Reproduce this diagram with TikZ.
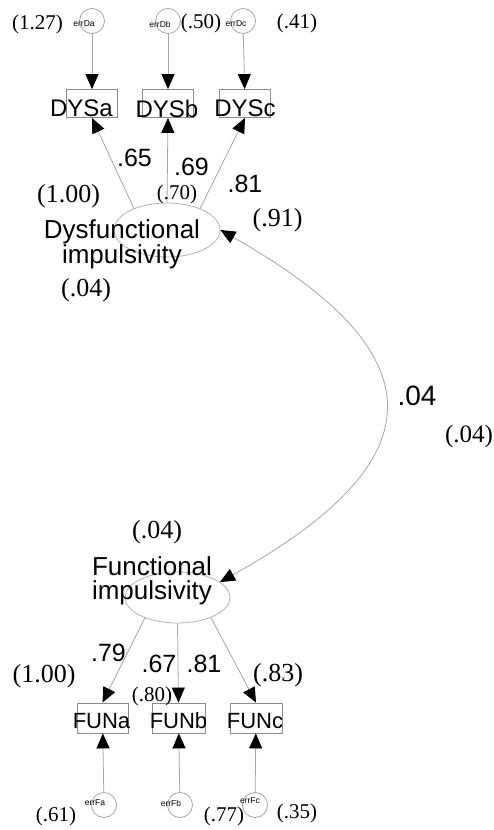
\documentclass[tikz,border=0pt]{standalone}
\usepackage{fontspec}
\setmainfont{Liberation Serif}
\setsansfont{Liberation Sans}
\usetikzlibrary{arrows.meta,shapes.geometric}
\begin{document}
\begin{tikzpicture}[x=1pt,y=-1pt,
  ln/.style={draw=black!35, line width=0.8pt},
  tipend/.style={-{Triangle[length=15pt,width=13pt,color=black]}},
  bothend/.style={{Triangle[length=15pt,width=13pt,color=black]}-{Triangle[length=15pt,width=13pt,color=black]}},
  obsbox/.style={draw=black!45, line width=0.8pt, minimum width=51pt, minimum height=28pt, inner sep=0pt},
  latent/.style={ellipse, draw=black!30, line width=0.8pt, inner sep=0pt},
  errc/.style={circle, draw=black!35, line width=0.8pt, minimum size=25pt, inner sep=0pt},
  tinytxt/.style={font=\sffamily\fontsize{8.5}{9}\selectfont, inner sep=0pt},
  boxtxt/.style={font=\sffamily\fontsize{24}{24}\selectfont, inner sep=0pt},
  funtxt/.style={font=\sffamily\fontsize{22}{22}\selectfont, inner sep=0pt},
  lattxt/.style={font=\sffamily\fontsize{26}{22}\selectfont, align=center, inner sep=0pt},
  coef/.style={font=\sffamily\fontsize{25}{25}\selectfont, inner sep=0pt},
  est/.style={font=\rmfamily\fontsize{21}{21}\selectfont, inner sep=0pt},
  estb/.style={font=\rmfamily\fontsize{26}{26}\selectfont, inner sep=0pt}
]
\useasboundingbox (0,0) rectangle (494,830);

% ---------- top error terms ----------
\node[errc] (eDa) at (92,21) {};
\node[errc] (eDb) at (168,21) {};
\node[errc] (eDc) at (243,21) {};
\node[tinytxt] (teDa) at (84,24) {errDa};
\node[tinytxt] (teDb) at (160,24) {errDb};
\node[tinytxt] (teDc) at (236,24) {errDc};
\node[est] (v127) at (37.5,24) {(1.27)};
\node[est] (v50) at (201,23) {(.50)};
\node[est] (v41) at (297,23) {(.41)};

% ---------- DYS boxes ----------
\node[obsbox] (DYSa) at (92,103.5) {};
\node[obsbox] (DYSb) at (168,103.5) {};
\node[obsbox] (DYSc) at (245,103.5) {};
\node[boxtxt] (tDYSa) at (81.5,108.5) {DYSa};
\node[boxtxt] (tDYSb) at (167,108.5) {DYSb};
\node[boxtxt] (tDYSc) at (245,108.5) {DYSc};

\draw[ln,tipend] (eDa) -- (DYSa);
\draw[ln,tipend] (eDb) -- (DYSb);
\draw[ln,tipend] (eDc) -- (DYSc);

% ---------- Dysfunctional latent ----------
\node[latent, minimum width=106pt, minimum height=54pt] (dys) at (167,230) {};
\node[lattxt] (tdys) at (122,244) {Dysfunctional\\impulsivity};

\draw[ln,tipend] (dys.147) -- (DYSa.south);
\draw[ln,tipend] (dys.north) -- (DYSb.south);
\draw[ln,tipend] (dys.33) -- (DYSc.south);

\node[coef] (c65) at (134.5,157.5) {.65};
\node[coef] (c69) at (191.5,166.5) {.69};
\node[coef] (c81a) at (245,183.5) {.81};
\node[estb] (v100a) at (68.5,196) {(1.00)};
\node[est] (v70) at (177,194) {(.70)};
\node[estb] (v91) at (277.5,220) {(.91)};
\node[estb] (v04a) at (86,290) {(.04)};

% ---------- Functional latent ----------
\node[latent, minimum width=105pt, minimum height=51pt] (fun) at (177.5,597.5) {};
\node[font=\sffamily\fontsize{26}{24}\selectfont, align=center, inner sep=0pt] (tfun) at (152,581) {Functional\\impulsivity};
\node[estb] (v04c) at (157,532) {(.04)};

% covariance
\draw[ln,bothend] (dys.east) .. controls (439,354) and (439,460) .. (fun.20);
\node[font=\sffamily\fontsize{28}{28}\selectfont, inner sep=0pt] (c04) at (417,396) {.04};
\node[font=\rmfamily\fontsize{25}{25}\selectfont, inner sep=0pt] (v04b) at (469,436) {(.04)};

% ---------- FUN boxes ----------
\node[obsbox, minimum height=30pt] (FUNa) at (102.5,718) {};
\node[obsbox, minimum height=30pt, minimum width=53pt] (FUNb) at (178.5,718) {};
\node[obsbox, minimum height=30pt, minimum width=52pt] (FUNc) at (256,718) {};
\node[funtxt] (tFUNa) at (101.5,721) {FUNa};
\node[funtxt] (tFUNb) at (178.5,721) {FUNb};
\node[funtxt] (tFUNc) at (255,721) {FUNc};

\draw[ln,tipend] (fun.212) -- (FUNa.north);
\draw[ln,tipend] (fun.south) -- (FUNb.north);
\draw[ln,tipend] (fun.-31) -- (FUNc.north);

\node[coef] (c79) at (108.5,653) {.79};
\node[coef] (c67) at (159,664) {.67};
\node[coef] (c81b) at (204,664) {.81};
\node[estb] (v100b) at (44,676) {(1.00)};
\node[estb] (v83) at (278,675) {(.83)};
\node[est] (v80) at (152,696) {(.80)};

% ---------- bottom error terms ----------
\node[errc] (eFa) at (104,805) {};
\node[errc] (eFb) at (180,805) {};
\node[errc] (eFc) at (255,805) {};
\node[tinytxt] (teFa) at (95,803) {errFa};
\node[tinytxt] (teFb) at (171,803) {errFb};
\node[tinytxt] (teFc) at (250,801) {errFc};
\draw[ln,tipend] (eFa) -- (FUNa);
\draw[ln,tipend] (eFb) -- (FUNb);
\draw[ln,tipend] (eFc) -- (FUNc);
\node[est] (v61) at (56,816) {(.61)};
\node[est] (v77) at (224,816) {(.77)};
\node[est] (v35) at (297,813) {(.35)};
\end{tikzpicture}
\end{document}
